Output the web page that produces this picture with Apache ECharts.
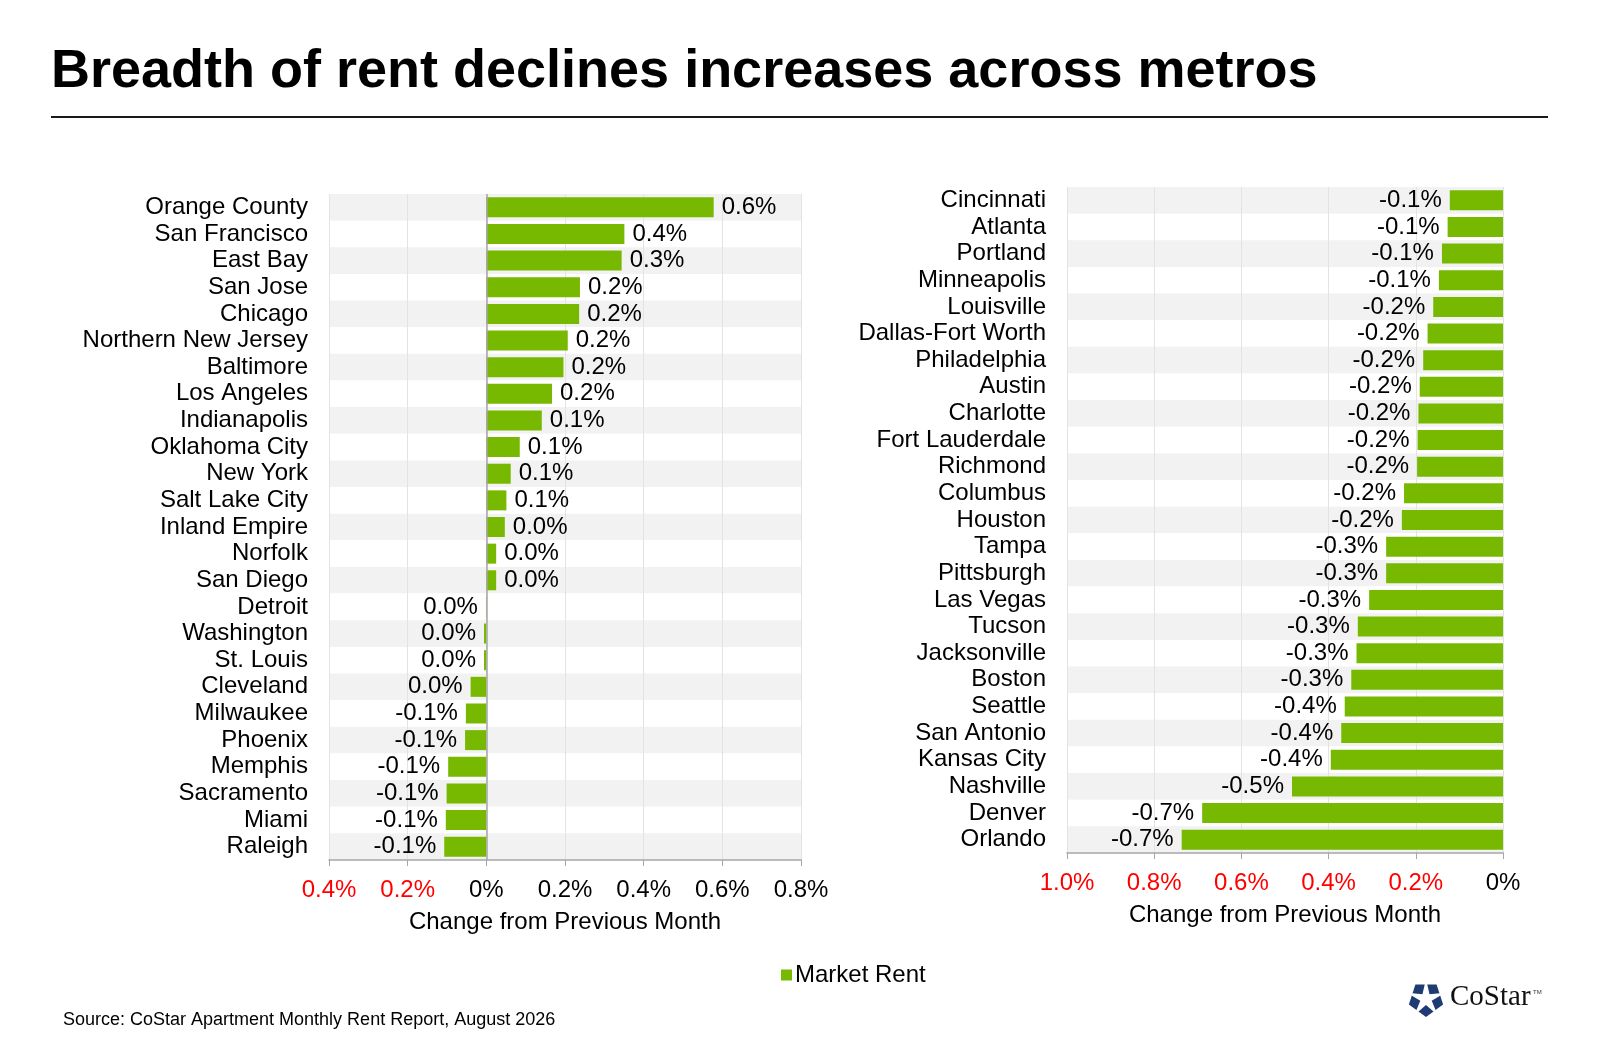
<!DOCTYPE html>
<html>
<head>
<meta charset="utf-8">
<title>Breadth of rent declines increases across metros</title>
<script src="https://cdn.jsdelivr.net/npm/echarts@6.0.0/dist/echarts.min.js"></script>
<style>
  html, body { margin: 0; padding: 0; background: #fff; }
  #chart { width: 1600px; height: 1047px; }
</style>
</head>
<body>
<div id="chart"></div>
<script>
// metros with rising / flat rents (left panel), top to bottom
const leftCities = ['Orange County', 'San Francisco', 'East Bay', 'San Jose', 'Chicago',
  'Northern New Jersey', 'Baltimore', 'Los Angeles', 'Indianapolis', 'Oklahoma City',
  'New York', 'Salt Lake City', 'Inland Empire', 'Norfolk', 'San Diego', 'Detroit',
  'Washington', 'St. Louis', 'Cleveland', 'Milwaukee', 'Phoenix', 'Memphis',
  'Sacramento', 'Miami', 'Raleigh'];
const leftChange = [0.578, 0.351, 0.344, 0.238, 0.236, 0.207, 0.196, 0.167, 0.141, 0.085,
  0.062, 0.051, 0.047, 0.025, 0.025, -0.001, -0.006, -0.006, -0.040, -0.052, -0.054,
  -0.097, -0.101, -0.103, -0.107];

// metros with falling rents (right panel), top to bottom
const rightCities = ['Cincinnati', 'Atlanta', 'Portland', 'Minneapolis', 'Louisville',
  'Dallas-Fort Worth', 'Philadelphia', 'Austin', 'Charlotte', 'Fort Lauderdale',
  'Richmond', 'Columbus', 'Houston', 'Tampa', 'Pittsburgh', 'Las Vegas', 'Tucson',
  'Jacksonville', 'Boston', 'Seattle', 'San Antonio', 'Kansas City', 'Nashville',
  'Denver', 'Orlando'];
const rightChange = [-0.122, -0.127, -0.140, -0.147, -0.160, -0.173, -0.183, -0.191,
  -0.194, -0.196, -0.197, -0.227, -0.232, -0.268, -0.268, -0.307, -0.333, -0.336,
  -0.348, -0.363, -0.371, -0.395, -0.484, -0.690, -0.737];

const leftTicks = { min: -0.4, max: 0.8, interval: 0.2 };
const rightTicks = { min: -1.0, max: 0, interval: 0.2 };

const FONT = '"Liberation Sans", Arial, sans-serif';
const GREEN = '#76b900';
const FS = 24;

function pct(v) {
  const r = Math.round(v * 10) / 10 + 0;
  return r.toFixed(1) + '%';
}

function tickLabel(v) {
  const r = Math.round(v * 10) / 10 + 0;
  if (r === 0) return '0%';
  if (r < 0) return '{neg|' + Math.abs(r).toFixed(1) + '%}';
  return r.toFixed(1) + '%';
}

function valueAxis(grid, ticks) {
  return {
    type: 'value', gridIndex: grid,
    min: ticks.min, max: ticks.max, interval: ticks.interval,
    name: 'Change from Previous Month', nameLocation: 'middle', nameGap: 50,
    nameTextStyle: { fontFamily: FONT, fontSize: FS, color: '#000' },
    axisLine: { show: true, onZero: false, lineStyle: { color: '#a6a6a6', width: 1.5 } },
    axisTick: { show: true, length: 6, lineStyle: { color: '#a6a6a6' } },
    splitLine: { show: true, lineStyle: { color: '#e3e3e3' } },
    axisLabel: {
      margin: 18, formatter: tickLabel,
      fontFamily: FONT, fontSize: FS, color: '#000',
      rich: { neg: { fontFamily: FONT, fontSize: FS, color: '#ff0000' } }
    }
  };
}

function catAxis(grid, cities) {
  return {
    type: 'category', gridIndex: grid, data: cities, inverse: true,
    axisLine: { show: false, onZero: false },
    axisTick: { show: false },
    axisLabel: { interval: 0, margin: 21, fontFamily: FONT, fontSize: FS, color: '#000' },
    splitArea: { show: true, interval: 0, areaStyle: { color: ['#f2f2f2', '#ffffff'] } }
  };
}

function barData(values) {
  return values.map(v => ({ value: v, label: { position: v >= 0 ? 'right' : 'left' } }));
}

// CoStar mark: navy pentagon split by a white star
function logoPoints(r, n, rot) {
  const pts = [];
  for (let i = 0; i < n; i++) {
    const a = rot + i * 2 * Math.PI / n;
    pts.push([r * Math.cos(a), r * Math.sin(a)]);
  }
  return pts;
}
function starPoints(ro, ri, rot) {
  const pts = [];
  for (let i = 0; i < 10; i++) {
    const r = i % 2 ? ri : ro;
    const a = rot + i * Math.PI / 5;
    pts.push([r * Math.cos(a), r * Math.sin(a)]);
  }
  return pts;
}

const chart = echarts.init(document.getElementById('chart'), null, { renderer: 'canvas' });

chart.setOption({
  animation: false,
  backgroundColor: '#ffffff',
  title: {
    text: 'Breadth of rent declines increases across metros',
    left: 46, top: 40,
    textStyle: { fontFamily: FONT, fontSize: 54, fontWeight: 'bold', color: '#000' }
  },
  legend: {
    data: ['Market Rent'], left: 776, top: 958,
    icon: 'rect', itemWidth: 11, itemHeight: 11, itemGap: 10,
    textStyle: { fontFamily: FONT, fontSize: FS, color: '#000', padding: [0, 0, 0, -2] }
  },
  grid: [
    { left: 329, right: 799, top: 194, bottom: 187, containLabel: false },
    { left: 1067, right: 97, top: 187, bottom: 194, containLabel: false }
  ],
  xAxis: [valueAxis(0, leftTicks), valueAxis(1, rightTicks)],
  yAxis: [catAxis(0, leftCities), catAxis(1, rightCities)],
  series: [
    {
      name: 'Market Rent', type: 'bar', xAxisIndex: 0, yAxisIndex: 0,
      data: barData(leftChange), barWidth: 20,
      itemStyle: { color: GREEN },
      label: {
        show: true, distance: 8, fontFamily: FONT, fontSize: FS, color: '#000',
        formatter: p => pct(p.value)
      },
      markLine: {
        silent: true, symbol: 'none', label: { show: false },
        lineStyle: { color: '#a6a6a6', type: 'solid', width: 1.5 },
        data: [{ xAxis: 0 }]
      }
    },
    {
      name: 'Market Rent', type: 'bar', xAxisIndex: 1, yAxisIndex: 1,
      data: barData(rightChange), barWidth: 20,
      itemStyle: { color: GREEN },
      label: {
        show: true, distance: 8, fontFamily: FONT, fontSize: FS, color: '#000',
        formatter: p => pct(p.value)
      }
    }
  ],
  graphic: [
    {
      type: 'line', shape: { x1: 51, y1: 117, x2: 1548, y2: 117 },
      style: { stroke: '#1a1a1a', lineWidth: 2 }
    },
    {
      type: 'text', left: 63, top: 1011,
      style: {
        text: 'Source: CoStar Apartment Monthly Rent Report, August 2026',
        font: '18px ' + FONT, fill: '#000'
      }
    },
    {
      type: 'group', x: 1426, y: 999,
      children: [
        { type: 'polygon', shape: { points: logoPoints(18, 5, Math.PI / 2) }, style: { fill: '#1f3b73' } },
        { type: 'polygon', shape: { points: starPoints(20, 6, -Math.PI / 2) }, style: { fill: '#ffffff' } }
      ]
    },
    {
      type: 'text', left: 1450, top: 983,
      style: { text: 'CoStar', font: '29px "Liberation Serif", "Times New Roman", serif', fill: '#111' }
    },
    {
      type: 'text', left: 1533, top: 989,
      style: { text: 'TM', font: '6px ' + FONT, fill: '#333' }
    }
  ]
});
</script>
</body>
</html>
